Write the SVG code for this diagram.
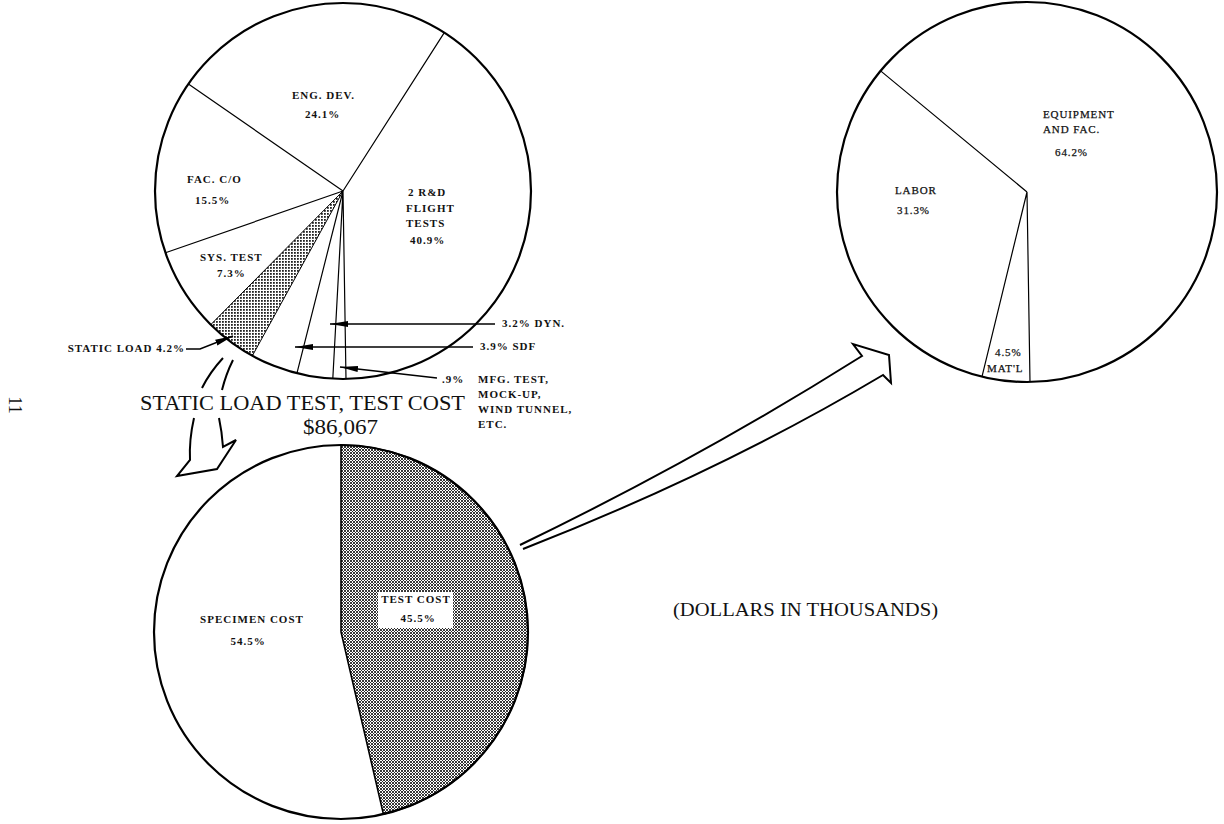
<svg xmlns="http://www.w3.org/2000/svg" width="1224" height="824" viewBox="0 0 1224 824">
  <style>
    .pie { fill: none; stroke: #000; stroke-width: 2.2; }
    .div { fill: none; stroke: #000; stroke-width: 1.2; }
    .lead { fill: none; stroke: #000; stroke-width: 1.6; }
    .blk { fill: none; stroke: #000; stroke-width: 2; stroke-linejoin: miter; }
    .lbl { font-family: "Liberation Serif", "Times New Roman", serif; font-weight: bold; font-size: 11px; letter-spacing: 1px; fill: #111; }
    .lbr { font-family: "Liberation Serif", "Times New Roman", serif; font-size: 11px; letter-spacing: 0.9px; fill: #111; stroke: #111; stroke-width: 0.25; }
    .big { font-family: "Liberation Serif", "Times New Roman", serif; font-size: 22px; fill: #111; }
    .mid { font-family: "Liberation Serif", "Times New Roman", serif; font-size: 18px; fill: #111; }
  </style>
  <defs>
    <pattern id="dots" width="3" height="3" patternUnits="userSpaceOnUse">
      <rect width="3" height="3" fill="#fff"/>
      <rect width="1.8" height="1.8" fill="#222"/>
    </pattern>
    <pattern id="mesh" width="3" height="3" patternUnits="userSpaceOnUse">
      <rect width="3" height="3" fill="#fff"/>
      <path d="M0,0 L3,3 M3,0 L0,3" stroke="#222" stroke-width="0.9"/>
    </pattern>
    <marker id="head" markerUnits="userSpaceOnUse" markerWidth="20" markerHeight="8" refX="18" refY="3.5" orient="auto">
      <path d="M0,0.5 L18,3.5 L0,6.5 Z" fill="#000"/>
    </marker>
  </defs>

  <rect width="1224" height="824" fill="#fff"/>

  <!-- page number, turned on its side -->
  <text class="mid" transform="translate(9,405) rotate(90)" text-anchor="middle" font-size="15">11</text>

  <!-- program cost breakdown -->
  <g id="program-pie">
    <path d="M343,191 L210.8,324.6 A188,188 0 0 0 252.4,355.7 Z" fill="url(#dots)" stroke="#000" stroke-width="1"/>
    <circle class="pie" cx="343" cy="191" r="188"/>
    <path class="div" d="M343,191 L444.3,32.6 M343,191 L188.4,84 M343,191 L165.5,252.8 M343,191 L296.9,373.3 M343,191 L332.8,378.7 M343,191 L346,379"/>
    <text class="lbl" x="292" y="99">ENG. DEV.</text>
    <text class="lbl" x="305" y="118">24.1%</text>
    <text class="lbl" x="187" y="183">FAC. C/O</text>
    <text class="lbl" x="195" y="204">15.5%</text>
    <text class="lbl" x="408" y="196">2 R&amp;D</text>
    <text class="lbl" x="406" y="212">FLIGHT</text>
    <text class="lbl" x="406" y="227">TESTS</text>
    <text class="lbl" x="410" y="244">40.9%</text>
    <text class="lbl" x="200" y="261">SYS. TEST</text>
    <text class="lbl" x="217" y="277">7.3%</text>
  </g>

  <!-- call-outs for the narrow slices -->
  <g id="slice-callouts">
    <text class="lbl" x="185" y="352" text-anchor="end">STATIC LOAD 4.2%</text>
    <text class="lbl" x="502" y="327">3.2% DYN.</text>
    <text class="lbl" x="480" y="350">3.9%  SDF</text>
    <text class="lbl" x="442" y="383">.9%</text>
    <text class="lbl" x="478" y="383">MFG. TEST,</text>
    <text class="lbl" x="478" y="398">MOCK-UP,</text>
    <text class="lbl" x="478" y="413">WIND TUNNEL,</text>
    <text class="lbl" x="478" y="428">ETC.</text>
  </g>

  <!-- test cost split -->
  <g id="static-test-pie">
    <path d="M341,632 L341,445 A187,187 0 0 1 383.4,814.1 Z" fill="url(#mesh)" stroke="#000" stroke-width="1.6"/>
    <circle class="pie" cx="341" cy="632" r="187"/>
    <rect x="378" y="592" width="75" height="36" fill="#fff"/>
    <text class="lbl" x="416" y="603" text-anchor="middle" font-size="10.5">TEST COST</text>
    <text class="lbl" x="418" y="622" text-anchor="middle" font-size="10.5">45.5%</text>
    <text class="lbl" x="252" y="623" text-anchor="middle" font-size="10.5">SPECIMEN COST</text>
    <text class="lbl" x="248" y="645" text-anchor="middle" font-size="10.5">54.5%</text>
  </g>

  <!-- test cost elements -->
  <g id="test-cost-pie">
    <circle class="pie" cx="1027" cy="192" r="190"/>
    <path class="div" d="M1027,192 L880.6,70.9 M1027,192 L982,376.6 M1027,192 L1030,382"/>
    <text class="lbr" x="1043" y="118">EQUIPMENT</text>
    <text class="lbr" x="1043" y="133">AND FAC.</text>
    <text class="lbr" x="1055" y="156">64.2%</text>
    <text class="lbr" x="895" y="194">LABOR</text>
    <text class="lbr" x="897" y="214">31.3%</text>
    <text class="lbr" x="995" y="356">4.5%</text>
    <text class="lbr" x="987" y="372">MAT'L</text>
  </g>

  <g id="titles">
    <text class="big" x="140" y="410" textLength="325" lengthAdjust="spacingAndGlyphs">STATIC LOAD TEST, TEST COST</text>
    <text class="big" x="303" y="434" textLength="75" lengthAdjust="spacingAndGlyphs">$86,067</text>
    <text class="mid" x="673" y="616" textLength="265" lengthAdjust="spacingAndGlyphs">(DOLLARS IN THOUSANDS)</text>
  </g>

  <g id="connectors">
    <path class="lead" d="M186,349 L200,349 L233,336" marker-end="url(#head)"/>
    <path class="lead" d="M495,324 L330,324" marker-end="url(#head)"/>
    <path class="lead" d="M473,347 L295,347" marker-end="url(#head)"/>
    <path class="lead" d="M437,378 L340,367" marker-end="url(#head)"/>
    <!-- curved block arrow down to the test cost pie -->
    <path class="blk" d="M223,358 Q210,372 202,388"/>
    <path class="blk" d="M233,360 Q226,374 222,390"/>
    <path class="blk" d="M194,418 Q189,440 190,460 L177,476 L217,469 L236,440 L223,447 Q222,432 219,418"/>
    <!-- block arrow across to the test cost elements -->
    <path class="blk" d="M520,545 Q700,458 862,356 L853,344 L889,355 L891,383 L883,375 Q720,472 523,549"/>
  </g>
</svg>
